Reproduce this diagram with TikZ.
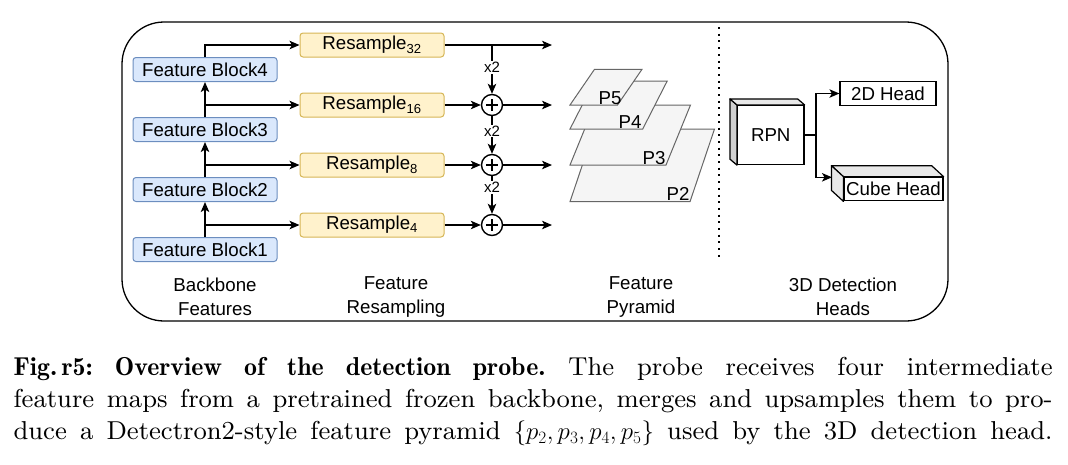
\documentclass[tikz,border=0pt]{standalone}
\usepackage{fontspec}
\newfontfamily\arial{Liberation Sans}
\newfontfamily\capfont{lmroman9-regular.otf}[BoldFont=lmromandemi10-regular.otf]
\usetikzlibrary{arrows.meta,calc}
\definecolor{fbfill}{HTML}{DAE8FC}
\definecolor{fbdraw}{HTML}{6C8EBF}
\definecolor{rsfill}{HTML}{FFF2CC}
\definecolor{rsdraw}{HTML}{D6B656}
\definecolor{pyfill}{HTML}{F5F5F5}
\definecolor{pydraw}{HTML}{666666}
\definecolor{sideface}{HTML}{D0D0D0}
\definecolor{topface}{HTML}{E8E8E8}
\begin{document}
\begin{tikzpicture}[x=1pt,y=-1pt,line width=1.2pt,
  txt/.style={font=\arial\fontsize{18.7}{24}\selectfont},
  fb/.style={txt,rectangle,rounded corners=3pt,fill=fbfill,draw=fbdraw,line width=1pt,minimum width=144,minimum height=24,inner sep=0},
  rs/.style={txt,rectangle,rounded corners=3pt,fill=rsfill,draw=rsdraw,line width=1pt,minimum width=144,minimum height=24,inner sep=0},
  arr/.style={-{Stealth[length=10pt,width=8.5pt,inset=2.5pt]}},
  sumc/.style={circle,draw,line width=1.4pt,minimum size=21,inner sep=0},
  xtwo/.style={font=\arial\fontsize{15}{16}\selectfont,fill=white,inner sep=1pt},
  py/.style={fill=pyfill,draw=pydraw,line width=1pt},
  plab/.style={txt,inner sep=0,anchor=base east},
  hd/.style={txt,rectangle,draw,fill=white,line width=1.2pt,inner sep=0},
  face/.style={draw,line width=1.2pt,line join=round},
  colcap/.style={txt,align=center}]
\useasboundingbox (0,0) rectangle (1068,464);
% outer frame
\draw[line width=1.3pt,rounded corners=42pt] (122,22) rectangle (948,321);

% backbone blocks
\node[fb] (fb4) at (205,69.5) {Feature Block4};
\node[fb] (fb3) at (205,129.5) {Feature Block3};
\node[fb] (fb2) at (205,189.5) {Feature Block2};
\node[fb] (fb1) at (205,249.5) {Feature Block1};

% resample blocks
\node[rs] (rs32) at (372,45) {Resample\textsubscript{32}};
\node[rs] (rs16) at (372,105) {Resample\textsubscript{16}};
\node[rs] (rs8) at (372,165) {Resample\textsubscript{8}};
\node[rs] (rs4) at (372,225) {Resample\textsubscript{4}};

% backbone connectors
\coordinate (b1) at (205,225);
\coordinate (b2) at (205,165);
\coordinate (b3) at (205,105);
\draw[arr] (fb1) -- (fb2);
\draw[arr] (fb2) -- (fb3);
\draw[arr] (fb3) -- (fb4);
\draw[arr] (b1) -- (rs4);
\draw[arr] (b2) -- (rs8);
\draw[arr] (b3) -- (rs16);
\draw[arr] (fb4.north) |- (rs32.west);

% sums
\node[sumc] (s16) at (492,105) {};
\node[sumc] (s8) at (492,165) {};
\node[sumc] (s4) at (492,225) {};
\foreach \s in {s16,s8,s4}{
  \draw[line width=1.4pt] ($(\s)+(-6,0)$) -- ($(\s)+(6,0)$);
  \draw[line width=1.4pt] ($(\s)+(0,-6)$) -- ($(\s)+(0,6)$);
}
\coordinate (j32) at (492,45);
\coordinate (o32) at (552,45);
\coordinate (o16) at (552,105);
\coordinate (o8) at (552,165);
\coordinate (o4) at (552,225);
\draw[arr] (rs32) -- (o32);
\draw[arr] (rs16) -- (s16);
\draw[arr] (rs8) -- (s8);
\draw[arr] (rs4) -- (s4);
\draw[arr] (s16) -- (o16);
\draw[arr] (s8) -- (o8);
\draw[arr] (s4) -- (o4);
\draw[arr] (j32) -- node[xtwo,pos=0.46]{x2} (s16);
\draw[arr] (s16) -- node[xtwo,pos=0.4]{x2} (s8);
\draw[arr] (s8) -- node[xtwo,pos=0.3]{x2} (s4);

% pyramid
\draw[py] (570,201.7) -- (690,201.7) -- (714.5,129) -- (594.5,129) -- cycle;
\node[plab] (p2) at (690,200) {P2};
\draw[py] (570,165) -- (666,165) -- (690.5,105) -- (594.5,105) -- cycle;
\node[plab] (p3) at (666,164) {P3};
\draw[py] (570,129) -- (642.7,129) -- (667.2,81) -- (594.5,81) -- cycle;
\node[plab] (p4) at (642,128) {P4};
\draw[py] (570,105) -- (617.5,105) -- (642,69.3) -- (594.5,69.3) -- cycle;
\node[plab] (p5) at (622,104) {P5};

% separator
\draw[line width=2pt,dash pattern=on 2pt off 4.7pt] (719.3,27) -- (719.3,259);

% RPN cube
\node[hd,minimum width=66.5,minimum height=59] (rpn) at (770.75,135) {RPN};
\draw[face,fill=sideface] (rpn.north west) -- ++(-7,-6) -- ($(rpn.south west)+(-7,-6)$) -- (rpn.south west) -- cycle;
\draw[face,fill=topface] (rpn.north west) -- ++(-7,-6) -- ($(rpn.north east)+(-7,-6)$) -- (rpn.north east) -- cycle;

% heads
\node[hd,minimum width=96,minimum height=23.5] (h2d) at (888,93.5) {2D Head};
\node[hd,minimum width=99,minimum height=23.5] (ch) at (893.5,189) {Cube Head};
\draw[face,fill=topface] (ch.north west) -- ++(-12,-11) -- ($(ch.north east)+(-12,-11)$) -- (ch.north east) -- cycle;
\draw[face,fill=topface] (ch.north west) -- ++(-12,-11) -- ($(ch.south west)+(-12,-11)$) -- (ch.south west) -- cycle;

\coordinate (jr) at (816,135);
\coordinate (chl) at (832,177.3);
\draw (rpn.east) -- (jr);
\draw[arr] (jr) |- (h2d.west);
\draw[arr] (jr) |- (chl);

% column captions
\node[colcap] (c1) at (215,297) {Backbone\\Features};
\node[colcap] (c2) at (396,297) {Feature\\Resampling};
\node[colcap] (c3) at (641,297) {Feature\\Pyramid};
\node[colcap] (c4) at (843,297) {3D Detection\\Heads};

% figure caption
\node[anchor=north west,inner sep=0,align=left,
      font=\capfont\fontsize{25.9}{31.7}\selectfont\frenchspacing] (figcap) at (13,357)
{\hbox to 1039pt{\textbf{Fig.\,r5: Overview of the detection probe.} The probe receives four intermediate}\\
\hbox to 1039pt{feature maps from a pretrained frozen backbone, merges and upsamples them to pro-}\\
\hbox to 1039pt{duce a Detectron2-style feature pyramid $\{p_2, p_3, p_4, p_5\}$ used by the 3D detection head.}};
\end{tikzpicture}
\end{document}
